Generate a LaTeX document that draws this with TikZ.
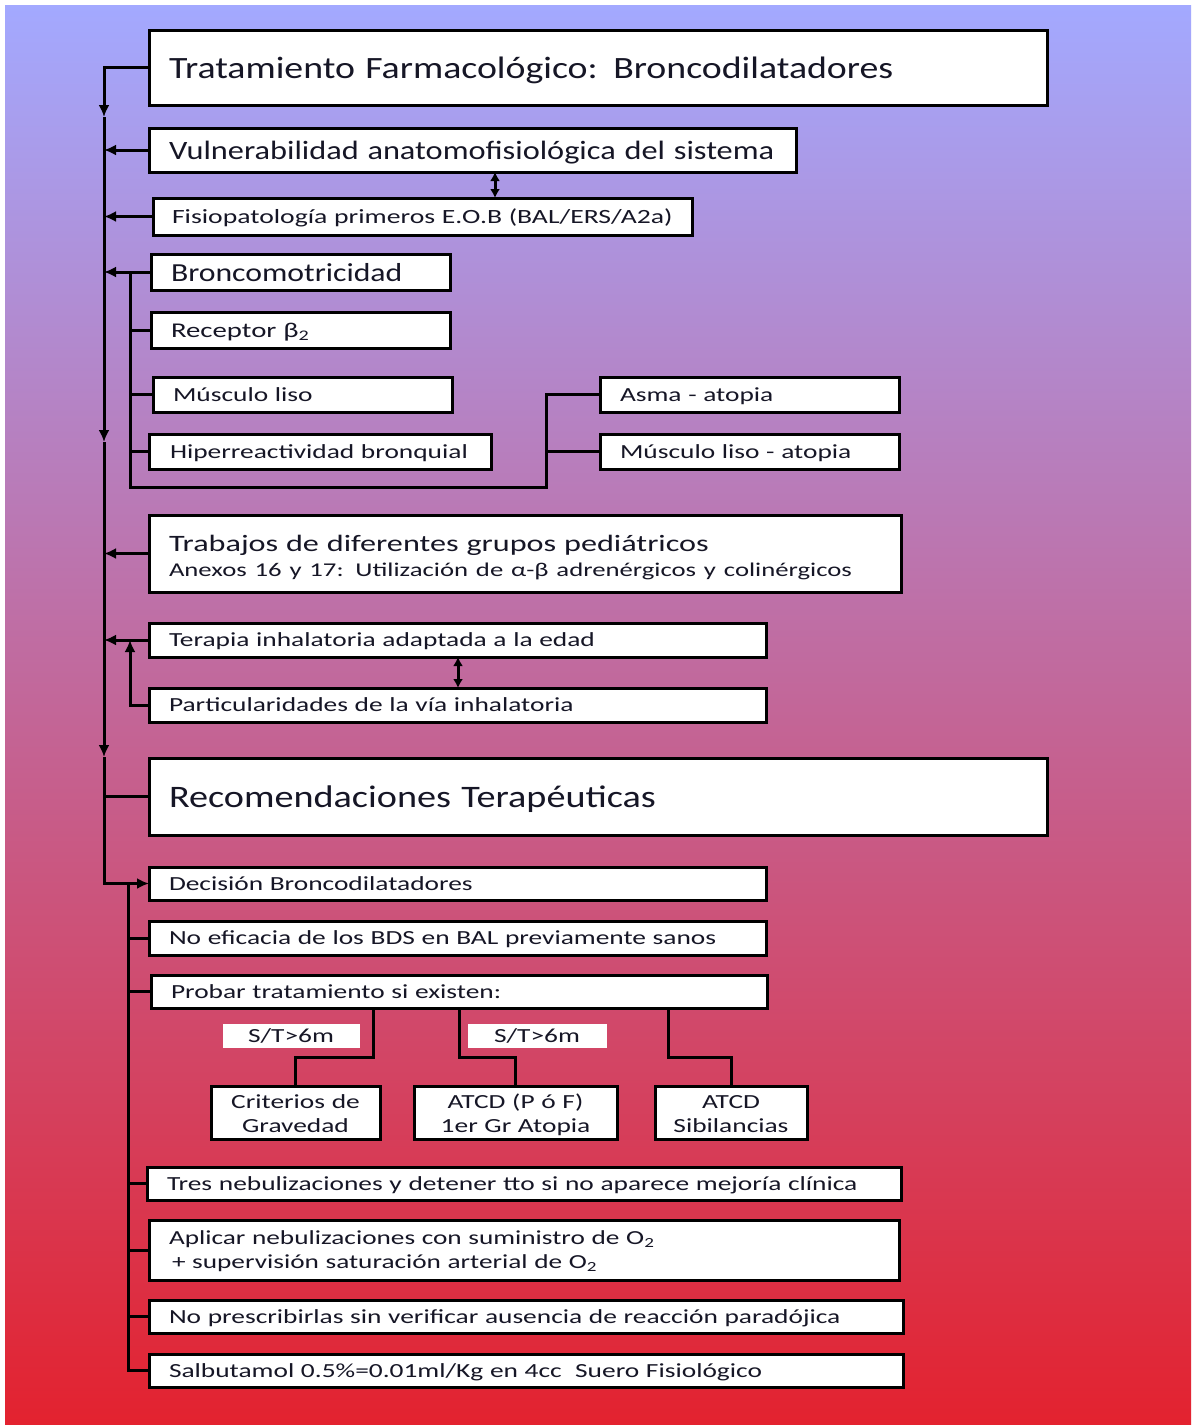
\documentclass[tikz,border=0pt]{standalone}
\usepackage{fontspec}
\setmainfont{Carlito}[FakeStretch=1.22]
\newfontfamily\chica{Carlito}[FakeStretch=1.37]
\usetikzlibrary{arrows.meta,positioning}
\definecolor{fondoarriba}{RGB}{163,169,255}
\definecolor{fondoabajo}{RGB}{227,34,47}
\definecolor{tinta}{RGB}{22,22,38}
\tikzset{
  caja/.style={draw=black, fill=white, line width=3pt, anchor=north west, outer sep=0pt,
    inner xsep=20pt, inner ysep=0pt, text depth=0pt, align=left, text=tinta},
  doslineas/.style={caja, text depth=, inner ysep=0pt, yshift=0pt},
  cajita/.style={doslineas, inner xsep=0pt, align=center},
  linea/.style={line width=3pt},
  flecha/.style={line width=3pt, -{Latex[length=12pt,width=11pt]}},
  doble/.style={line width=3pt, {Latex[length=9pt,width=10pt]}-{Latex[length=9pt,width=10pt]}},
  etiqueta/.style={fill=white, inner sep=0pt, text=tinta},
}
\begin{document}
\begin{tikzpicture}[x=1pt,y=-1pt]
  \useasboundingbox (0,0) rectangle (1194,1425);
  \fill[white] (0,0) rectangle (1194,1425);
  \shade[top color=fondoarriba, bottom color=fondoabajo] (5,5) rectangle (1191,1424);

  % ejes de conexion
  \coordinate (eje) at (104,0);
  \coordinate (rama) at (130,0);
  \coordinate (rama2) at (128,0);

  % bloque superior
  \node[caja, minimum width=898, minimum height=75, text width=858, font=\fontsize{31}{36}\selectfont] (titulo) at (149,30) {Tratamiento Farmacológico: Broncodilatadores};
  \node[caja, minimum width=647, minimum height=44, text width=607, font=\fontsize{26.5}{30}\selectfont] (vuln) at (149,128) {Vulnerabilidad anatomofisiológica del sistema};
  \node[caja, minimum width=539, minimum height=37, text width=501, inner xsep=19pt, font=\chica\fontsize{20.2}{24}\selectfont] (fisio) at (153,198) {Fisiopatología primeros E.O.B (BAL/ERS/A2a)};
  \node[caja, minimum width=299, minimum height=36, text width=259, font=\fontsize{26}{28}\selectfont] (bronco) at (151,254) {Broncomotricidad};
  \node[caja, minimum width=299, minimum height=36, text width=259, font=\chica\fontsize{21}{24}\selectfont] (recep) at (151,312) {Receptor β\textsubscript{2}};
  \node[caja, minimum width=299, minimum height=35, text width=259, font=\chica\fontsize{20}{24}\selectfont] (musc) at (153,377) {Músculo liso};
  \node[caja, minimum width=342, minimum height=35, text width=300, inner xsep=21pt, font=\chica\fontsize{20}{24}\selectfont] (hiper) at (149,434) {\mbox{Hiperreactividad bronquial}};
  \node[caja, minimum width=299, minimum height=35, text width=259, font=\chica\fontsize{20}{24}\selectfont] (asma) at (600,377) {Asma - atopia};
  \node[caja, minimum width=299, minimum height=35, text width=259, font=\chica\fontsize{20}{24}\selectfont] (mlat) at (600,434) {Músculo liso - atopia};
  \node[doslineas, minimum width=752, minimum height=77, text width=712, font=\chica\fontsize{23.5}{25}\selectfont] (trab) at (149,515) {\rule{0pt}{25pt}Trabajos de diferentes grupos pediátricos\\\fontsize{19.5}{25}\selectfont Anexos 16 y 17: Utilización de α-β adrenérgicos y colinérgicos};
  \node[caja, minimum width=617, minimum height=34, text width=577, font=\chica\fontsize{20}{24}\selectfont] (terapia) at (149,623) {Terapia inhalatoria adaptada a la edad};
  \node[caja, minimum width=617, minimum height=34, text width=577, font=\chica\fontsize{20}{24}\selectfont] (partic) at (149,688) {Particularidades de la vía inhalatoria};

  % bloque inferior
  \node[caja, minimum width=898, minimum height=77, text width=858, font=\fontsize{31.3}{36}\selectfont] (recom) at (149,758) {Recomendaciones Terapéuticas};
  \node[caja, minimum width=617, minimum height=33, text width=577, font=\chica\fontsize{20}{24}\selectfont] (decision) at (149,867) {Decisión Broncodilatadores};
  \node[caja, minimum width=617, minimum height=34, text width=577, font=\chica\fontsize{20}{24}\selectfont] (noefic) at (149,921) {No eficacia de los BDS en BAL previamente sanos};
  \node[caja, minimum width=616, minimum height=33, text width=576, font=\chica\fontsize{20}{24}\selectfont] (probar) at (151,975) {Probar tratamiento si existen:};
  \node[etiqueta, minimum width=137, minimum height=24, font=\chica\fontsize{20}{22}\selectfont] (st1) at (291,1036) {S/T>6m};
  \node[etiqueta, minimum width=139, minimum height=24, font=\chica\fontsize{20}{22}\selectfont] (st2) at (537,1036) {S/T>6m};
  \node[cajita, minimum width=169, minimum height=53, text width=169, font=\chica\fontsize{20}{24}\selectfont] (crit) at (211,1086) {\rule{0pt}{16pt}Criterios de\\Gravedad};
  \node[cajita, minimum width=203, minimum height=53, text width=203, font=\chica\fontsize{20}{24}\selectfont] (atcdp) at (414,1086) {\rule{0pt}{16pt}ATCD (P ó F)\\\raisebox{0pt}[\height][0pt]{1er Gr Atopia}};
  \node[cajita, minimum width=152, minimum height=53, text width=152, font=\chica\fontsize{20}{24}\selectfont] (atcds) at (655,1086) {\rule{0pt}{16pt}ATCD\\Sibilancias};
  \node[caja, minimum width=754, minimum height=33, text width=714, font=\chica\fontsize{20}{24}\selectfont] (tres) at (147,1167) {Tres nebulizaciones y detener tto si no aparece mejoría clínica};
  \node[doslineas, minimum width=750, minimum height=60, text width=710, font=\chica\fontsize{19.9}{24}\selectfont] (aplicar) at (149,1220) {\rule{0pt}{16pt}Aplicar nebulizaciones con suministro de O\textsubscript{2}\\\hspace{3pt}+ supervisión saturación arterial de O\textsubscript{2}};
  \node[caja, minimum width=754, minimum height=33, text width=714, font=\chica\fontsize{20}{24}\selectfont] (nopresc) at (149,1300) {No prescribirlas sin verificar ausencia de reacción paradójica};
  \node[caja, minimum width=754, minimum height=33, text width=714, font=\chica\fontsize{20}{24}\selectfont] (salb) at (149,1354) {Salbutamol 0.5\%=0.01ml/Kg en 4cc\ \ Suero Fisiológico};

  % eje principal con flechas intermedias
  \coordinate (p1) at (104,117);
  \coordinate (p2) at (104,442);
  \coordinate (p3) at (104,757);
  \draw[flecha] (titulo.west) -| (p1);
  \draw[flecha] (p1) -- (p2);
  \draw[flecha] (p2) -- (p3);
  \draw[flecha] (p3) |- (decision.west);
  \foreach \n in {vuln,fisio,bronco,trab,terapia}
    \draw[flecha] (\n.west) -- (\n.west -| eje);
  \draw[linea] (recom.west) -- (recom.west -| eje);

  % flechas dobles
  \coordinate (d1) at (495,0);
  \coordinate (d2) at (458,0);
  \draw[doble] (vuln.south -| d1) -- (fisio.north -| d1);
  \draw[doble] (terapia.south -| d2) -- (partic.north -| d2);

  % broncomotricidad
  \coordinate (q1) at (130,487);
  \coordinate (q2) at (546,487);
  \draw[linea] (bronco.west -| rama) -- (q1) -- (q2) |- (asma.west);
  \draw[linea] (q2) |- (mlat.west);
  \foreach \n in {recep,musc,hiper}
    \draw[linea] (\n.west) -- (\n.west -| rama);
  \draw[flecha] (partic.west) -| (terapia.west -| rama);

  % recomendaciones
  \draw[linea] (decision.west -| rama2) |- (salb.west);
  \foreach \n in {noefic,probar,tres,aplicar,nopresc}
    \draw[linea] (\n.west) -- (\n.west -| rama2);
  \coordinate (b1) at (373,1057);
  \coordinate (b2) at (459,1057);
  \coordinate (b3) at (668,1057);
  \draw[linea] (probar.south -| b1) -- (b1) -| (crit.north);
  \draw[linea] (probar.south -| b2) -- (b2) -| (atcdp.north);
  \draw[linea] (probar.south -| b3) -- (b3) -| (atcds.north);
\end{tikzpicture}
\end{document}
